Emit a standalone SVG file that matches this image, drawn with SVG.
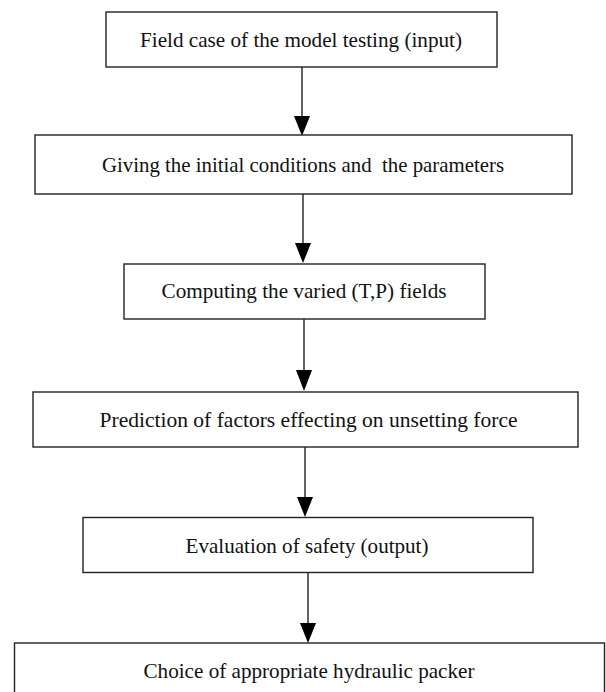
<svg xmlns="http://www.w3.org/2000/svg" width="606" height="692" viewBox="0 0 606 692">
<defs>
<style>
.box{fill:#fff;stroke:#222;stroke-width:1.4}
.lbl{font-family:"Liberation Serif","Times New Roman",serif;font-size:21px;fill:#111;text-anchor:middle}
.edge{stroke:#222;stroke-width:1.4;fill:none}
.head{fill:#000}
</style>
</defs>
<rect width="606" height="692" fill="#fff"/>
<g id="connectors">
<line class="edge" x1="302" y1="67" x2="302" y2="116"/>
<path class="head" d="M294,116 L310,116 L302,136 Z"/>
<line class="edge" x1="303" y1="194" x2="303" y2="243"/>
<path class="head" d="M295,243 L311,243 L303,263 Z"/>
<line class="edge" x1="304" y1="319" x2="304" y2="370"/>
<path class="head" d="M296,370 L312,370 L304,391 Z"/>
<line class="edge" x1="305" y1="447" x2="305" y2="497"/>
<path class="head" d="M297,497 L313,497 L305,517 Z"/>
<line class="edge" x1="308" y1="573" x2="308" y2="623"/>
<path class="head" d="M300,623 L316,623 L308,643 Z"/>
</g>
<g id="n1"><rect class="box" x="106" y="12" width="391" height="55"/><text class="lbl" x="301" y="47" textLength="322" lengthAdjust="spacingAndGlyphs">Field case of the model testing (input)</text></g>
<g id="n2"><rect class="box" x="35" y="135" width="537" height="59"/><text class="lbl" x="303" y="172" textLength="402" lengthAdjust="spacingAndGlyphs" xml:space="preserve">Giving the initial conditions and  the parameters</text></g>
<g id="n3"><rect class="box" x="124" y="264" width="361" height="55"/><text class="lbl" x="304" y="298" textLength="285" lengthAdjust="spacingAndGlyphs">Computing the varied (T,P) fields</text></g>
<g id="n4"><rect class="box" x="33" y="392" width="545" height="55"/><text class="lbl" x="308.5" y="427" textLength="418" lengthAdjust="spacingAndGlyphs">Prediction of factors effecting on unsetting force</text></g>
<g id="n5"><rect class="box" x="83" y="517.5" width="450" height="55"/><text class="lbl" x="307" y="553" textLength="243" lengthAdjust="spacingAndGlyphs">Evaluation of safety (output)</text></g>
<g id="n6"><rect class="box" x="14.5" y="643" width="590" height="60"/><text class="lbl" x="309" y="678" textLength="331" lengthAdjust="spacingAndGlyphs">Choice of appropriate hydraulic packer</text></g>
</svg>
